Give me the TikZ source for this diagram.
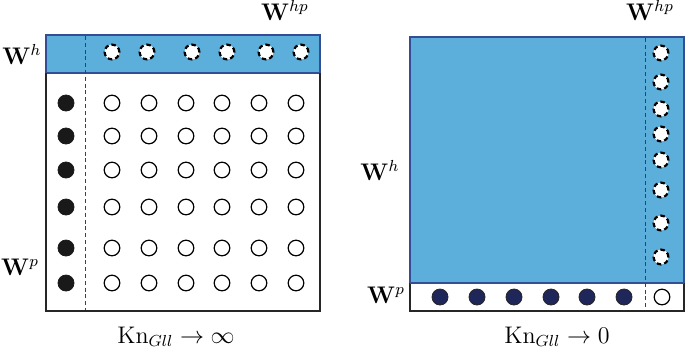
\documentclass[tikz,border=0pt]{standalone}
\usepackage{amsmath}
\definecolor{bandblue}{RGB}{93,175,219}
\definecolor{edgeblue}{RGB}{52,78,150}
\definecolor{navy}{RGB}{30,38,90}
\tikzset{
  opendot/.style={circle, draw=black, fill=white, line width=0.6pt, minimum size=7.8pt, inner sep=0pt},
  fulldot/.style={circle, draw=black!90, fill=black!90, line width=0.4pt, minimum size=8pt, inner sep=0pt},
  navydot/.style={circle, draw=black!85, fill=navy, line width=0.4pt, minimum size=8pt, inner sep=0pt},
  dashdot/.style={circle, draw=black, fill=white, line width=1.1pt, dash pattern=on 2.3pt off 1.5pt, minimum size=7.4pt, inner sep=0pt},
  sepline/.style={draw=black!75, line width=0.5pt, dash pattern=on 2pt off 1.4pt},
  frame/.style={draw=black!85, line width=0.9pt},
  blueframe/.style={fill=bandblue, draw=edgeblue, line width=0.8pt},
  wlabel/.style={font=\fontsize{11.5}{13}\selectfont, anchor=base, inner sep=0pt},
  knlabel/.style={font=\fontsize{11.5}{13}\selectfont, anchor=base, inner sep=0pt}
}
\begin{document}
\begin{tikzpicture}[x=0.5pt, y=-0.5pt]
\useasboundingbox (0,0) rectangle (685,349);

% ---------------- Left panel ----------------
\fill[white] (46,73) rectangle (320,311);
\draw[blueframe] (46,35) rectangle (320,73);
\draw[frame] (46,73) -- (46,311) -- (320,311) -- (320,73);
\draw[sepline] (85,36) -- (85,310);

% dashed circles in the band
\foreach \x [count=\i] in {112,147,192,227,266,301}
  \node[dashdot] (Lh\i) at (\x,52) {};

% filled and open dots
\foreach \y [count=\r] in {103,136,170,207,248,283} {
  \node[fulldot] (Lf\r) at (66,\y) {};
  \foreach \x [count=\c] in {112,149,186,222,259,296}
    \node[opendot] (Lo\r-\c) at (\x,\y) {};
}

\node[wlabel] (LWh) at (22,64) {$\mathbf{W}^{h}$};
\node[wlabel] (LWhp) at (285,20) {$\mathbf{W}^{hp}$};
\node[wlabel] (LWp) at (20,275) {$\mathbf{W}^{p}$};
\node[knlabel] (LKn) at (176,343) {$\mathrm{Kn}_{Gll}\rightarrow\infty$};

% ---------------- Right panel ----------------
\draw[blueframe] (410,37) rectangle (684,283);
\fill[white] (410,283) rectangle (684,311);
\draw[frame] (410,283) -- (410,311) -- (684,311) -- (684,283);
\draw[edgeblue, line width=0.8pt] (410,283) -- (684,283);
\draw[sepline] (645,38) -- (645,310);

\foreach \y [count=\i] in {53,82,109,134,160,190,223,257}
  \node[dashdot] (Rh\i) at (661,\y) {};

\foreach \x [count=\c] in {440,477,514,551,587,624}
  \node[navydot] (Rn\c) at (\x,297) {};
\node[opendot] (Ro) at (662,297) {};

\node[wlabel] (RWh) at (380,180) {$\mathbf{W}^{h}$};
\node[wlabel] (RWhp) at (650,20) {$\mathbf{W}^{hp}$};
\node[wlabel] (RWp) at (386,303) {$\mathbf{W}^{p}$};
\node[knlabel] (RKn) at (557,343) {$\mathrm{Kn}_{Gll}\rightarrow 0$};
\end{tikzpicture}
\end{document}
